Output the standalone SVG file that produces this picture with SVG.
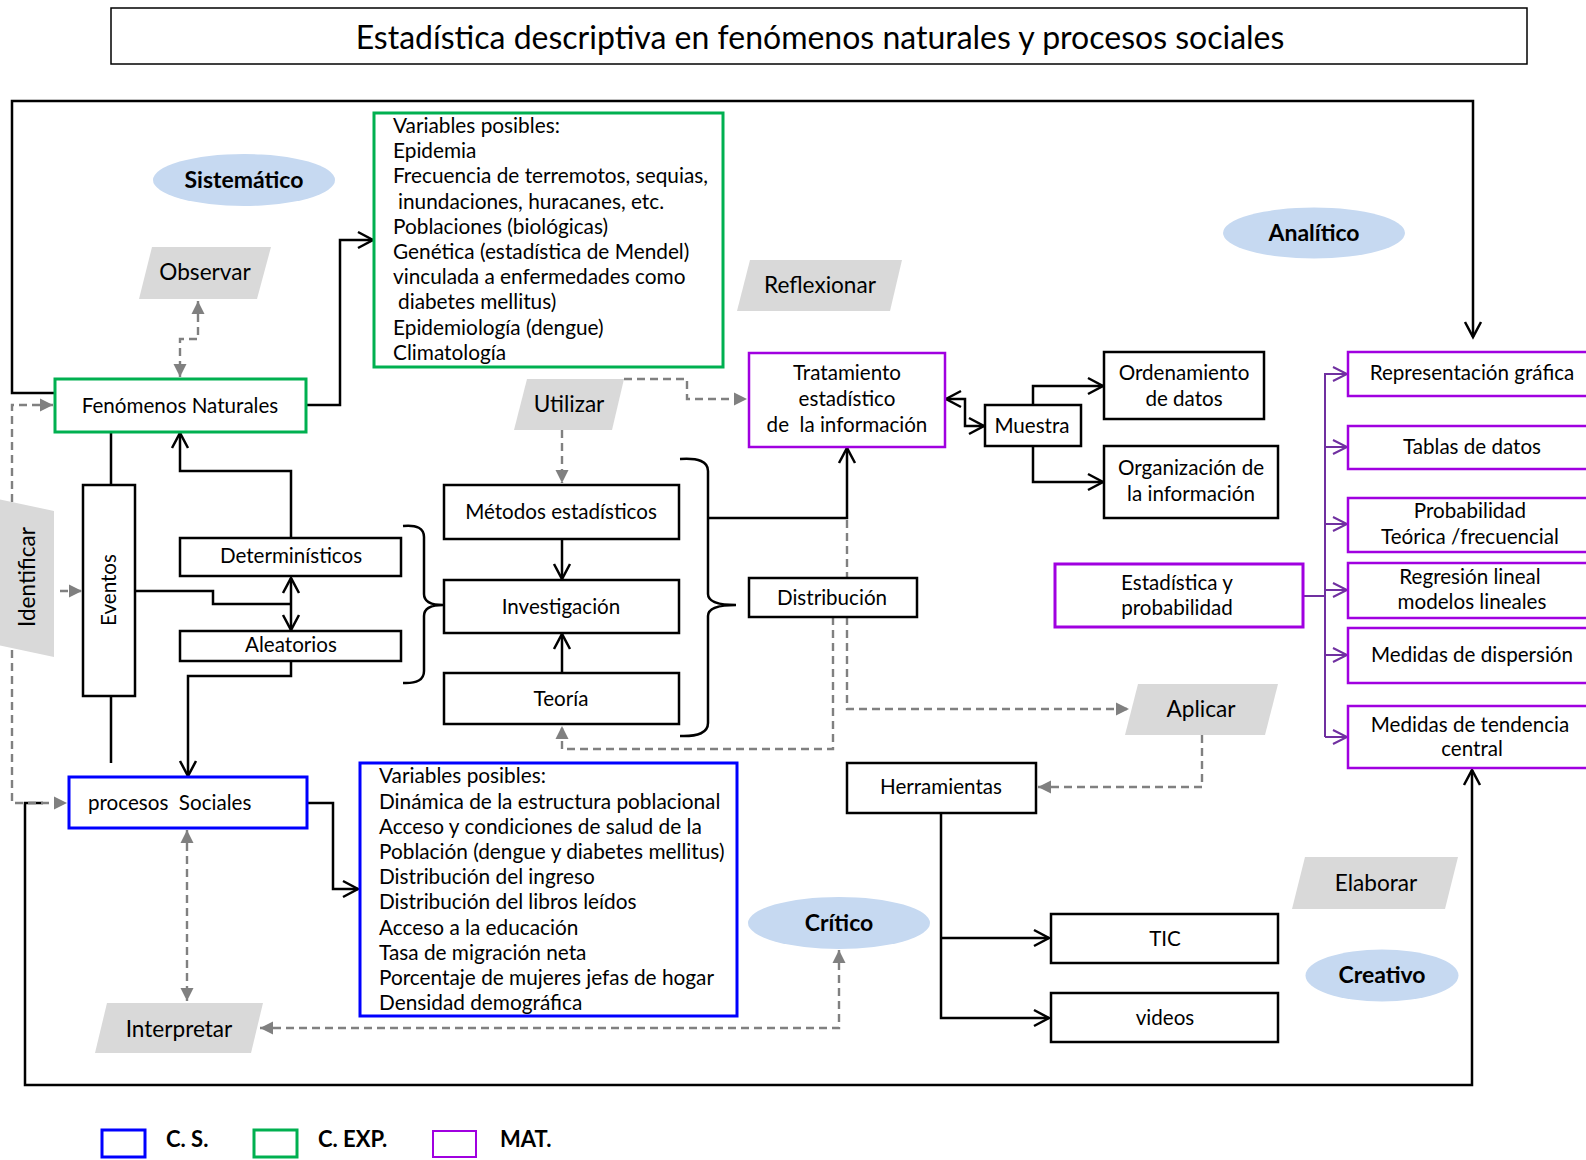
<svg xmlns="http://www.w3.org/2000/svg" width="1586" height="1160" viewBox="0 0 1586 1160">
<style>
.t{font-family:Lato,"Liberation Sans",sans-serif;font-size:20.6px;fill:#000}
.v{font-size:20.8px}
.c{text-anchor:middle}
.b{font-weight:bold}
.e{font-size:23px;font-weight:bold}
.pt{font-size:22.6px}
.ws{white-space:pre}
.box{fill:#fff;stroke:#000;stroke-width:2.5}
.g{fill:#fff;stroke:#00B050;stroke-width:3}
.bl{fill:#fff;stroke:#0000FF;stroke-width:3}
.p{fill:#fff;stroke:#A000E0;stroke-width:2.5}
.para{fill:#D9D9D9}
.ell{fill:#C6D9F1}
.k{fill:none;stroke:#000;stroke-width:2.5}
.d{fill:none;stroke:#808080;stroke-width:2.4;stroke-dasharray:8 5}
.pl{fill:none;stroke:#7030A0;stroke-width:2}
</style>
<defs>
<marker id="ak" markerUnits="userSpaceOnUse" markerWidth="20" markerHeight="20" refX="17" refY="10" orient="auto-start-reverse" overflow="visible">
<path d="M2,2 L17,10 L2,18" fill="none" stroke="#000" stroke-width="2.5"/>
</marker>
<marker id="ap" markerUnits="userSpaceOnUse" markerWidth="20" markerHeight="20" refX="17" refY="10" orient="auto" overflow="visible">
<path d="M3,3 L17,10 L3,17" fill="none" stroke="#7030A0" stroke-width="2"/>
</marker>
<marker id="ag" markerUnits="userSpaceOnUse" markerWidth="14" markerHeight="14" refX="13" refY="6.5" orient="auto-start-reverse" overflow="visible">
<path d="M0,0 L13,6.5 L0,13 Z" fill="#808080"/>
</marker>
</defs>
<rect width="1586" height="1160" fill="#fff"/>

<g id="title">
<rect x="111" y="8" width="1416" height="56" fill="#fff" stroke="#000" stroke-width="1.5"/>
<text class="t c" x="820" y="48.5" style="font-size:32px">Estadística descriptiva en fenómenos naturales y procesos sociales</text>
</g>

<g id="connectors">
<path class="k" d="M55,393 L12,393 L12,101 L1473,101 L1473,337" marker-end="url(#ak)"/>
<path class="k" d="M43,803 L25,803 L25,1085 L1472,1085 L1472,770" marker-end="url(#ak)"/>
<path class="d" d="M53,405 L12,405 L12,803 L67,803" marker-start="url(#ag)" marker-end="url(#ag)"/>
<path class="d" d="M198,301 L198,339 L180,339 L180,377" marker-start="url(#ag)" marker-end="url(#ag)"/>
<path class="k" d="M306,405 L340,405 L340,240 L373,240" marker-end="url(#ak)"/>
<path class="d" d="M60,591 L82,591" marker-end="url(#ag)"/>
<path class="k" d="M111,432 L111,485 M111,696 L111,763"/>
<path class="k" d="M291,538 L291,471 L180,471 L180,433" marker-end="url(#ak)"/>
<path class="k" d="M135,591 L213,591 L213,604 L291,604"/>
<path class="k" d="M291,578 L291,630" marker-start="url(#ak)" marker-end="url(#ak)"/>
<path class="k" d="M291,661 L291,676 L188,676 L188,776" marker-end="url(#ak)"/>
<path class="k" d="M403,526 Q424,524 424,537 L424,594 Q424,605 443,605 Q424,605 424,616 L424,671 Q424,684 403,683"/>
<path class="k" d="M680,459 Q708,457 708,471 L708,594 Q708,605 736,605 Q708,605 708,616 L708,723 Q708,737 680,736"/>
<path class="k" d="M708,518 L847,518 L847,448" marker-end="url(#ak)"/>
<path class="d" d="M624,379 L687,379 L687,399 L747,399" marker-end="url(#ag)"/>
<path class="d" d="M562,430 L562,483" marker-end="url(#ag)"/>
<path class="k" d="M562,539 L562,579" marker-end="url(#ak)"/>
<path class="k" d="M562,673 L562,634" marker-end="url(#ak)"/>
<path class="d" d="M847,520 L847,577"/>
<path class="d" d="M833,617 L833,749 L562,749 L562,726" marker-end="url(#ag)"/>
<path class="d" d="M847,617 L847,709 L1129,709" marker-end="url(#ag)"/>
<path class="k" d="M946,399 L965,399 L965,426 L984,426" marker-start="url(#ak)" marker-end="url(#ak)"/>
<path class="k" d="M1033,405 L1033,386 L1103,386" marker-end="url(#ak)"/>
<path class="k" d="M1033,446 L1033,482 L1103,482" marker-end="url(#ak)"/>
<path class="pl" d="M1303,596 L1325,596 M1325,373 L1325,737"/>
<path class="pl" d="M1325,374 L1347,374" marker-end="url(#ap)"/>
<path class="pl" d="M1325,447 L1347,447" marker-end="url(#ap)"/>
<path class="pl" d="M1325,524 L1347,524" marker-end="url(#ap)"/>
<path class="pl" d="M1325,590 L1347,590" marker-end="url(#ap)"/>
<path class="pl" d="M1325,655 L1347,655" marker-end="url(#ap)"/>
<path class="pl" d="M1325,737 L1347,737" marker-end="url(#ap)"/>
<path class="d" d="M1202,735 L1202,787 L1038,787" marker-end="url(#ag)"/>
<path class="k" d="M941,813 L941,1018 L1049,1018" marker-end="url(#ak)"/>
<path class="k" d="M941,938 L1049,938" marker-end="url(#ak)"/>
<path class="d" d="M260,1028 L839,1028 L839,950" marker-start="url(#ag)" marker-end="url(#ag)"/>
<path class="d" d="M187,830 L187,1001" marker-start="url(#ag)" marker-end="url(#ag)"/>
<path class="k" d="M307,803 L333,803 L333,889 L358,889" marker-end="url(#ak)"/>
</g>

<g id="sistematico"><ellipse class="ell" cx="244" cy="180" rx="91" ry="26"/><text class="t c e" x="244" y="188">Sistemático</text></g>
<g id="analitico"><ellipse class="ell" cx="1314" cy="233" rx="91" ry="25.5"/><text class="t c e" x="1314" y="241">Analítico</text></g>
<g id="critico"><ellipse class="ell" cx="839" cy="923" rx="91" ry="26"/><text class="t c e" x="839" y="931">Crítico</text></g>
<g id="creativo"><ellipse class="ell" cx="1382" cy="975.5" rx="76.5" ry="26"/><text class="t c e" x="1382" y="983">Creativo</text></g>

<g id="observar"><polygon class="para" points="152,247 271,247 257,299 139,299"/><text class="t c pt" x="205" y="280">Observar</text></g>
<g id="reflexionar"><polygon class="para" points="750,260 902,260 890,311 737,311"/><text class="t c pt" x="820" y="293">Reflexionar</text></g>
<g id="utilizar"><polygon class="para" points="527,379 624,379 612,430 514,430"/><text class="t c pt" x="569" y="412">Utilizar</text></g>
<g id="aplicar"><polygon class="para" points="1138,684 1278,684 1265,735 1125,735"/><text class="t c pt" x="1201" y="717">Aplicar</text></g>
<g id="elaborar"><polygon class="para" points="1305,857 1458,857 1445,909 1292,909"/><text class="t c pt" x="1376" y="891">Elaborar</text></g>
<g id="interpretar"><polygon class="para" points="107,1003 263,1003 251,1053 95,1053"/><text class="t c pt" x="179" y="1037">Interpretar</text></g>
<g id="identificar"><polygon class="para" points="-2,499 54,511 54,657 -2,645"/><text class="t c pt" transform="translate(35,577) rotate(-90)">Identificar</text></g>

<g id="fenomenos"><rect class="g" x="55" y="379" width="251" height="53"/><text class="t c" x="180" y="413">Fenómenos Naturales</text></g>
<g id="vars-nat"><rect class="g" x="374" y="113" width="349" height="254"/>
<text class="t v" x="393" y="133">Variables posibles:</text>
<text class="t v" x="393" y="158.2">Epidemia</text>
<text class="t v" x="393" y="183.4">Frecuencia de terremotos, sequias,</text>
<text class="t v" x="398" y="208.6">inundaciones, huracanes, etc.</text>
<text class="t v" x="393" y="233.8">Poblaciones (biológicas)</text>
<text class="t v" x="393" y="259">Genética (estadística de Mendel)</text>
<text class="t v" x="393" y="284.2">vinculada a enfermedades como</text>
<text class="t v" x="398" y="309.4">diabetes mellitus)</text>
<text class="t v" x="393" y="334.6">Epidemiología (dengue)</text>
<text class="t v" x="393" y="359.8">Climatología</text>
</g>
<g id="eventos"><rect class="box" x="83" y="485" width="52" height="211"/><text class="t c" transform="translate(116,590) rotate(-90)">Eventos</text></g>
<g id="deterministicos"><rect class="box" x="180" y="538" width="221" height="38"/><text class="t c" x="291" y="563">Determinísticos</text></g>
<g id="aleatorios"><rect class="box" x="180" y="631" width="221" height="30"/><text class="t c" x="291" y="652">Aleatorios</text></g>
<g id="metodos"><rect class="box" x="444" y="485" width="235" height="54"/><text class="t c" x="561" y="519">Métodos estadísticos</text></g>
<g id="investigacion"><rect class="box" x="444" y="580" width="235" height="53"/><text class="t c" x="561" y="614">Investigación</text></g>
<g id="teoria"><rect class="box" x="444" y="673" width="235" height="51"/><text class="t c" x="561" y="706">Teoría</text></g>
<g id="tratamiento"><rect class="p" x="749" y="353" width="196" height="94"/>
<text class="t c" x="847" y="380">Tratamiento</text>
<text class="t c" x="847" y="406">estadístico</text>
<text class="t c ws" x="847" y="432">de  la información</text></g>
<g id="distribucion"><rect class="box" x="749" y="578" width="168" height="39"/><text class="t c" x="832" y="605">Distribución</text></g>
<g id="muestra"><rect class="box" x="985" y="405" width="96" height="41"/><text class="t c" x="1032" y="433">Muestra</text></g>
<g id="ordenamiento"><rect class="box" x="1104" y="352" width="160" height="67"/>
<text class="t c" x="1184" y="380">Ordenamiento</text><text class="t c" x="1184" y="406">de datos</text></g>
<g id="organizacion"><rect class="box" x="1104" y="446" width="174" height="72"/>
<text class="t c" x="1191" y="475">Organización de</text><text class="t c" x="1191" y="501">la información</text></g>
<g id="estadistica"><rect class="p" x="1055" y="564" width="248" height="63" style="stroke-width:3"/>
<text class="t c" x="1177" y="590">Estadística y</text><text class="t c" x="1177" y="615">probabilidad</text></g>
<g id="representacion"><rect class="p" x="1348" y="352" width="245" height="44"/><text class="t c" x="1472" y="380">Representación gráfica</text></g>
<g id="tablas"><rect class="p" x="1348" y="426" width="245" height="43"/><text class="t c" x="1472" y="454">Tablas de datos</text></g>
<g id="probabilidad"><rect class="p" x="1348" y="498" width="245" height="54"/>
<text class="t c" x="1470" y="518">Probabilidad</text><text class="t c" x="1470" y="544">Teórica /frecuencial</text></g>
<g id="regresion"><rect class="p" x="1348" y="563" width="245" height="55"/>
<text class="t c" x="1470" y="584">Regresión lineal</text><text class="t c" x="1472" y="609">modelos lineales</text></g>
<g id="dispersion"><rect class="p" x="1348" y="628" width="245" height="55"/><text class="t c" x="1472" y="662">Medidas de dispersión</text></g>
<g id="tendencia"><rect class="p" x="1348" y="706" width="245" height="62"/>
<text class="t c" x="1470" y="732">Medidas de tendencia</text><text class="t c" x="1472" y="756">central</text></g>
<g id="herramientas"><rect class="box" x="847" y="763" width="189" height="50"/><text class="t c" x="941" y="794">Herramientas</text></g>
<g id="tic"><rect class="box" x="1051" y="914" width="227" height="49"/><text class="t c" x="1165" y="946">TIC</text></g>
<g id="videos"><rect class="box" x="1051" y="993" width="227" height="49"/><text class="t c" x="1165" y="1025">videos</text></g>
<g id="procesos"><rect class="bl" x="69" y="777" width="238" height="51"/><text class="t ws" x="88" y="810">procesos  Sociales</text></g>
<g id="vars-soc"><rect class="bl" x="360" y="763" width="377" height="253"/>
<text class="t v" x="379" y="783.3">Variables posibles:</text>
<text class="t v" x="379" y="808.5">Dinámica de la estructura poblacional</text>
<text class="t v" x="379" y="833.7">Acceso y condiciones de salud de la</text>
<text class="t v" x="379" y="858.9">Población (dengue y diabetes mellitus)</text>
<text class="t v" x="379" y="884.1">Distribución del ingreso</text>
<text class="t v" x="379" y="909.3">Distribución del libros leídos</text>
<text class="t v" x="379" y="934.5">Acceso a la educación</text>
<text class="t v" x="379" y="959.7">Tasa de migración neta</text>
<text class="t v" x="379" y="984.9">Porcentaje de mujeres jefas de hogar</text>
<text class="t v" x="379" y="1010.1">Densidad demográfica</text>
</g>

<g id="legend">
<rect x="102" y="1130" width="43" height="27" fill="none" stroke="#0000FF" stroke-width="3"/>
<text class="t b" x="166" y="1147" style="font-size:22px">C. S.</text>
<rect x="254" y="1130" width="43" height="27" fill="none" stroke="#00B050" stroke-width="3"/>
<text class="t b" x="318" y="1147" style="font-size:22px">C. EXP.</text>
<rect x="433" y="1131" width="43" height="26" fill="none" stroke="#A000E0" stroke-width="2"/>
<text class="t b" x="500" y="1147" style="font-size:22px">MAT.</text>
</g>
</svg>
